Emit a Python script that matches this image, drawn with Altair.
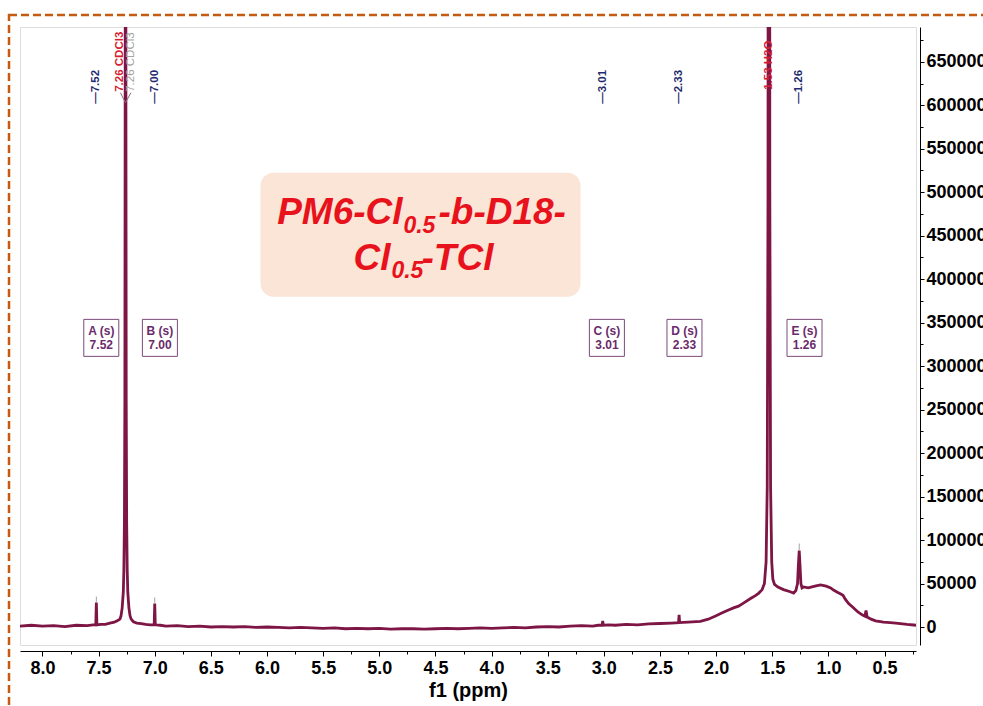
import altair as alt
import pandas as pd

# ---------------- data ----------------
ppm = [8.20, 8.10, 8.00, 7.90, 7.80, 7.70, 7.60, 7.55, 7.525, 7.52, 7.515, 7.48, 7.44, 7.40,
       7.36, 7.33, 7.31, 7.30, 7.29, 7.28, 7.275, 7.27, 7.266, 7.263, 7.26, 7.257, 7.254, 7.25,
       7.245, 7.24, 7.23, 7.22, 7.21, 7.19, 7.16, 7.12, 7.08, 7.04, 7.005, 7.00, 6.995, 6.95,
       6.90, 6.80, 6.70, 6.60, 6.50, 6.40, 6.30, 6.20, 6.10, 6.00, 5.90, 5.80, 5.70, 5.60,
       5.50, 5.40, 5.30, 5.20, 5.10, 5.00, 4.90, 4.80, 4.70, 4.60, 4.50, 4.40, 4.30, 4.20,
       4.10, 4.00, 3.90, 3.80, 3.70, 3.60, 3.50, 3.40, 3.30, 3.20, 3.10, 3.05, 3.015, 3.01,
       3.005, 2.95, 2.90, 2.80, 2.70, 2.60, 2.50, 2.40, 2.335, 2.33, 2.325, 2.25, 2.14, 2.07,
       2.00, 1.95, 1.90, 1.845, 1.80, 1.75, 1.69, 1.65, 1.62, 1.59, 1.57, 1.555, 1.545, 1.538,
       1.53, 1.522, 1.515, 1.505, 1.495, 1.48, 1.45, 1.40, 1.34, 1.31, 1.29, 1.275, 1.268,
       1.26, 1.252, 1.245, 1.235, 1.22, 1.18, 1.12, 1.07, 1.02, 0.98, 0.955, 0.92, 0.89, 0.87,
       0.85, 0.82, 0.78, 0.74, 0.70, 0.675, 0.665, 0.655, 0.62, 0.58, 0.51, 0.45, 0.40, 0.36,
       0.30, 0.24, 0.22]
intensity = [1000, 2000, 1000, 1500, 500, 2000, 1500, 2500, 2500, 28000, 2500, 3000, 3000, 4500,
             5500, 7500, 9000, 13000, 22000, 40000, 65000, 120000, 260000, 650000, 2500000, 650000, 260000, 120000,
             65000, 40000, 22000, 13000, 9000, 6000, 4500, 4000, 3000, 2500, 2500, 27000, 2500, 2000,
             1000, 1500, 500, 1000, 0, 500, 0, 500, -500, 0, -500, -1000, -500, -1000,
             -1500, -1000, -2000, -1500, -2000, -1500, -2500, -2000, -2000, -2500, -2000, -1500, -2000, -1500,
             -1000, -1500, -1000, -500, -1000, 0, 500, 0, 1000, 1500, 1000, 2000, 2000, 7000,
             2000, 2500, 2000, 3000, 2500, 3500, 4000, 4500, 5000, 14000, 5000, 5500, 6500, 9000,
             13000, 16000, 19000, 22000, 24000, 28000, 33000, 36000, 39000, 43000, 50000, 75000, 160000, 500000,
             3000000, 500000, 160000, 75000, 55000, 49000, 46000, 43000, 40500, 39000, 42000, 50000, 70000,
             88000, 68000, 50000, 45000, 46000, 45000, 47000, 48500, 47000, 45000, 42500, 40000, 38000, 36500,
             32000, 27000, 22500, 17500, 14000, 12500, 19000, 11500, 9000, 7000, 5500, 5000, 4500, 4000,
             3000, 2300, 2000]

# peak-picking labels at the top
pick_ppm = [7.52, 7.00, 3.01, 2.33, 1.26]
pick_text = ["\u20147.52", "\u20147.00", "\u20143.01", "\u20142.33", "\u20141.26"]
pick_y = [601700] * 5
solvent_ppm = [7.305, 1.53]
solvent_text = ["7.26 CDCl3", "1.53 H2O"]
solvent_y = [615500, 617800]
ref_ppm = [7.212]
ref_text = ["7.26 CDCl3"]
ref_y = [615500]
fork_x = [7.261, 7.261]
fork_y = [602900, 602900]
fork_x2 = [7.305, 7.212]
fork_y2 = [614400, 614400]
tip_ppm = [7.52, 7.00, 1.26]
tip_lo = [28000, 27000, 88000]
tip_hi = [35000, 34000, 96000]

# integration boxes
box_ppm = [7.476, 6.954, 2.973, 2.282, 1.213]
box_letter = ["A (s)", "B (s)", "C (s)", "D (s)", "E (s)"]
box_value = ["7.52", "7.00", "3.01", "2.33", "1.26"]
box_y = 332500
box_line1_y = 339970
box_line2_y = 323870

# title box and title pieces
tbox_x = [6.058]
tbox_x2 = [3.208]
tbox_y = [522300]
tbox_y2 = [379700]
title_right_text = ["PM6-Cl", "Cl"]
title_right_ppm = [4.793, 4.900]
title_right_y = [463650, 410730]
title_left_text = ["-b-D18-", "-TCl"]
title_left_ppm = [4.473, 4.624]
title_left_y = [463650, 410730]
title_sub_text = ["0.5", "0.5"]
title_sub_ppm = [4.785, 4.892]
title_sub_y = [453300, 401500]

x_ticks = [0.25 * i for i in range(1, 33)]
y_ticks = [25000 * i for i in range(0, 28)]

FONT = "Liberation Sans"
LINE = "#7d1545"
NAVY = "#1f2b6e"
RED = "#d42030"
GREY = "#a3a3a3"
PURPLE = "#6b2a6b"
TITLE_RED = "#E8121C"

xs = alt.Scale(domain=[0.22, 8.2], reverse=True, nice=False, zero=False)
ys = alt.Scale(domain=[-20700, 690000], nice=False, zero=False)

x_axis = alt.Axis(
    values=x_ticks,
    labelExpr="datum.value % 0.5 === 0 ? format(datum.value, '.1f') : ''",
    tickSize={"condition": {"test": "datum.value % 0.5 === 0", "value": 5}, "value": 3},
    offset=6, grid=False, labelOverlap=False, labelFlush=False,
    labelFont=FONT, labelFontSize=18, labelFontWeight="bold", labelColor="black",
    labelPadding=3, domainColor="black", tickColor="black",
    titleFont=FONT, titleFontSize=20, titleFontWeight="bold", titleColor="black",
    titlePadding=3,
)
y_axis = alt.Axis(
    orient="right", values=y_ticks,
    labelExpr="datum.value % 50000 === 0 ? format(datum.value, 'd') : ''",
    tickSize={"condition": {"test": "datum.value % 50000 === 0", "value": 4}, "value": 3},
    offset=4, grid=False, labelOverlap=False, labelFlush=False,
    labelFont=FONT, labelFontSize=18, labelFontWeight="bold", labelColor="black",
    labelPadding=2, domainColor="black", tickColor="black", title=None,
)


def X(field="ppm"):
    return alt.X(f"{field}:Q", scale=xs, axis=x_axis, title="f1 (ppm)")


def Y(field="intensity"):
    return alt.Y(f"{field}:Q", scale=ys, axis=y_axis)


spec_df = pd.DataFrame({"ppm": ppm, "intensity": intensity})

border = alt.Chart(pd.DataFrame({"k": [0]})).mark_rect(
    fillOpacity=0, stroke="#C55A11", strokeWidth=2.5, strokeDash=[8, 4], clip=False
).encode(x=alt.value(-11), x2=alt.value(1000), y=alt.value(-12), y2=alt.value(720))

tbox = alt.Chart(pd.DataFrame({"ppm": tbox_x, "ppm2": tbox_x2, "intensity": tbox_y, "i2": tbox_y2})).mark_rect(
    fill="#FBE5D6", cornerRadius=13
).encode(x=X(), x2="ppm2:Q", y=Y(), y2="i2:Q")

spectrum = alt.Chart(spec_df).mark_line(color=LINE, strokeWidth=2.8, clip=True).encode(
    x=X(), y=Y(), order="idx:Q"
).transform_window(idx="row_number()")

tips = alt.Chart(pd.DataFrame({"ppm": tip_ppm, "intensity": tip_lo, "i2": tip_hi})).mark_rule(
    color=GREY, strokeWidth=1
).encode(x=X(), y=Y(), y2="i2:Q")

picks = alt.Chart(pd.DataFrame({"ppm": pick_ppm, "intensity": pick_y, "t": pick_text})).mark_text(
    angle=270, align="left", baseline="middle", font=FONT, fontSize=11.5, fontWeight="bold", color=NAVY
).encode(x=X(), y=Y(), text="t:N")

solv = alt.Chart(pd.DataFrame({"ppm": solvent_ppm, "intensity": solvent_y, "t": solvent_text})).mark_text(
    angle=270, align="left", baseline="middle", font=FONT, fontSize=11.5, fontWeight="bold", color=RED
).encode(x=X(), y=Y(), text="t:N")

refl = alt.Chart(pd.DataFrame({"ppm": ref_ppm, "intensity": ref_y, "t": ref_text})).mark_text(
    angle=270, align="left", baseline="middle", font=FONT, fontSize=11.5, color=GREY
).encode(x=X(), y=Y(), text="t:N")

fork = alt.Chart(pd.DataFrame({"ppm": fork_x, "intensity": fork_y, "p2": fork_x2, "i2": fork_y2})).mark_rule(
    color="#8a6a7a", strokeWidth=1
).encode(x=X(), y=Y(), x2="p2:Q", y2="i2:Q")

boxes_df = pd.DataFrame({"ppm": box_ppm, "intensity": [box_y] * 5})
boxes = alt.Chart(boxes_df).mark_point(
    shape="M-0.946,-1H0.946V1H-0.946Z", size=1369, filled=True, fill="white",
    stroke="#7a4a7a", strokeWidth=1, opacity=1
).encode(x=X(), y=Y())

box_t1 = alt.Chart(pd.DataFrame({"ppm": box_ppm, "intensity": [box_line1_y] * 5, "t": box_letter})).mark_text(
    font=FONT, fontSize=12, fontWeight="bold", color=PURPLE, baseline="middle"
).encode(x=X(), y=Y(), text="t:N")
box_t2 = alt.Chart(pd.DataFrame({"ppm": box_ppm, "intensity": [box_line2_y] * 5, "t": box_value})).mark_text(
    font=FONT, fontSize=12, fontWeight="bold", color=PURPLE, baseline="middle"
).encode(x=X(), y=Y(), text="t:N")

t_right = alt.Chart(pd.DataFrame({"ppm": title_right_ppm, "intensity": title_right_y, "t": title_right_text})).mark_text(
    font=FONT, fontSize=37, fontWeight="bold", fontStyle="italic", color=TITLE_RED,
    align="right", baseline="alphabetic"
).encode(x=X(), y=Y(), text="t:N")
t_left = alt.Chart(pd.DataFrame({"ppm": title_left_ppm, "intensity": title_left_y, "t": title_left_text})).mark_text(
    font=FONT, fontSize=37, fontWeight="bold", fontStyle="italic", color=TITLE_RED,
    align="left", baseline="alphabetic"
).encode(x=X(), y=Y(), text="t:N")
t_sub = alt.Chart(pd.DataFrame({"ppm": title_sub_ppm, "intensity": title_sub_y, "t": title_sub_text})).mark_text(
    font=FONT, fontSize=23, fontWeight="bold", fontStyle="italic", color=TITLE_RED,
    align="left", baseline="alphabetic"
).encode(x=X(), y=Y(), text="t:N")

chart = alt.layer(
    border, tbox, spectrum, tips, picks, solv, refl, fork, boxes, box_t1, box_t2, t_right, t_left, t_sub
).properties(
    width=896, height=618,
    autosize=alt.AutoSizeParams(type="none"),
    padding={"left": 20, "top": 27, "right": 67, "bottom": 61},
    background="white",
).configure_view(strokeWidth=0).configure(font=FONT)

chart.save("out.html", embed_options={"renderer": "svg", "actions": False})
